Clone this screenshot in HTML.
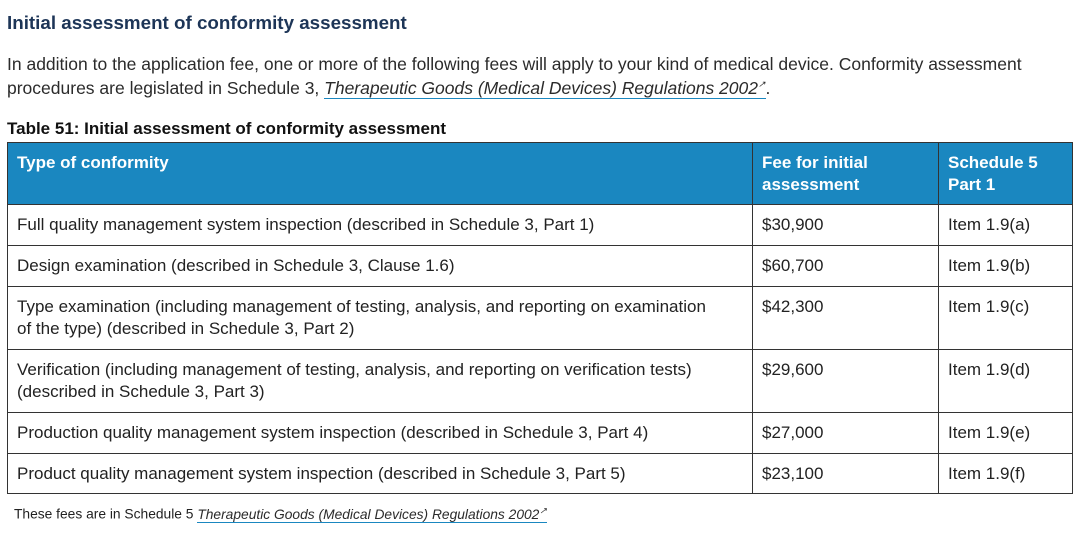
<!DOCTYPE html>
<html><head><meta charset="utf-8"><style>
body{margin:0;width:1080px;height:534px;background:#fff;font-family:"Liberation Sans",sans-serif;position:relative;overflow:hidden;color:#222}
.t{position:absolute;white-space:nowrap}
h1{position:absolute;left:7px;top:12px;margin:0;font-size:18.8px;color:#1d3557;font-weight:bold}
.p{font-size:17.5px;color:#2b2b2b}
a{color:#2b2b2b;text-decoration:none;border-bottom:1px solid #1a87c0;font-style:italic}
table{position:absolute;left:7px;top:142px;border-collapse:collapse;width:1066px;font-size:17px;table-layout:fixed}
td,th{border:1px solid #333;padding:0 9px;vertical-align:top;text-align:left;line-height:22px;white-space:nowrap}
th{background:#1a87c0;color:#fff;font-weight:bold;height:62px;padding-top:9px;box-sizing:border-box}
td{padding-top:9px}
</style></head><body>
<h1>Initial assessment of conformity assessment</h1>
<div class="t p" style="left:7px;top:54px">In addition to the application fee, one or more of the following fees will apply to your kind of medical device. Conformity assessment</div>
<div class="t p" style="left:7px;top:78px">procedures are legislated in Schedule 3, <a>Therapeutic Goods (Medical Devices) Regulations 2002<sup style="font-size:9px">↗</sup></a>.</div>
<div class="t" style="left:7px;top:119px;font-size:17px;font-weight:bold;color:#111">Table 51: Initial assessment of conformity assessment</div>
<table>
<colgroup><col style="width:745px"><col style="width:186px"><col></colgroup>
<tr><th>Type of conformity</th><th>Fee for initial<br>assessment</th><th>Schedule 5<br>Part 1</th></tr>
<tr style="height:41px"><td>Full quality management system inspection (described in Schedule 3, Part 1)</td><td>$30,900</td><td>Item 1.9(a)</td></tr>
<tr style="height:41px"><td>Design examination (described in Schedule 3, Clause 1.6)</td><td>$60,700</td><td>Item 1.9(b)</td></tr>
<tr style="height:63px"><td>Type examination (including management of testing, analysis, and reporting on examination<br>of the type) (described in Schedule 3, Part 2)</td><td>$42,300</td><td>Item 1.9(c)</td></tr>
<tr style="height:63px"><td>Verification (including management of testing, analysis, and reporting on verification tests)<br>(described in Schedule 3, Part 3)</td><td>$29,600</td><td>Item 1.9(d)</td></tr>
<tr style="height:41px"><td>Production quality management system inspection (described in Schedule 3, Part 4)</td><td>$27,000</td><td>Item 1.9(e)</td></tr>
<tr style="height:40px"><td>Product quality management system inspection (described in Schedule 3, Part 5)</td><td>$23,100</td><td>Item 1.9(f)</td></tr>
</table>
<div class="t" style="left:14px;top:505px;font-size:13.8px">These fees are in Schedule 5 <a>Therapeutic Goods (Medical Devices) Regulations 2002<sup style="font-size:9px">↗</sup></a></div>
</body></html>
